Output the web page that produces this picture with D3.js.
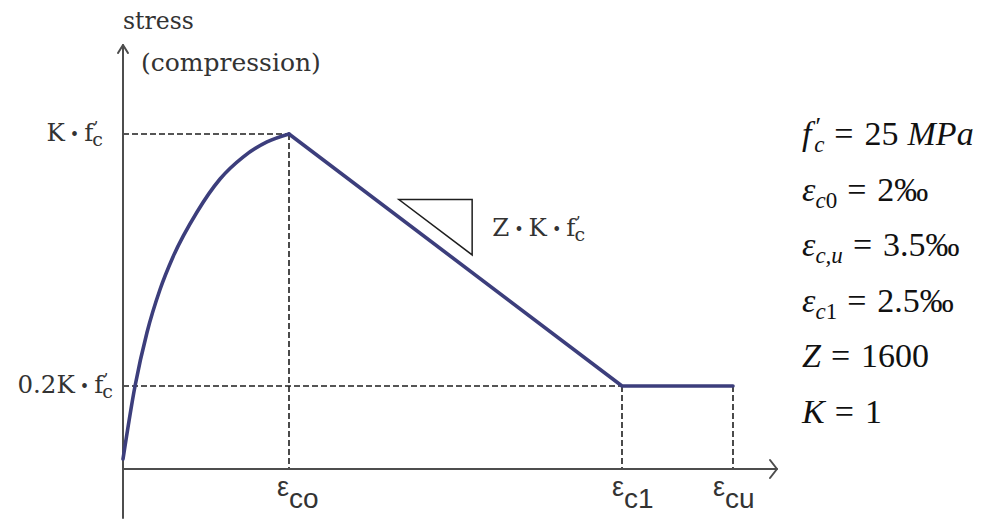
<!DOCTYPE html>
<html>
<head>
<meta charset="utf-8">
<script src="https://cdn.jsdelivr.net/npm/d3@7"></script>
<style>
  html, body { margin: 0; padding: 0; background: #ffffff; }
  svg { display: block; }
</style>
</head>
<body>
<svg id="chart" width="984" height="519"></svg>
<script>
// Concrete in compression: parabolic rise, linear softening, residual plateau.
const fc = 25;        // MPa
const K = 1;
const Z = 1600;
const epsC0 = 2.0;    // ‰
const epsC1 = 2.5;    // ‰
const epsCu = 3.5;    // ‰

// ascending branch (strain ‰, stress MPa)
const riseStrain = [0, 0.145, 0.289, 0.446, 0.602, 0.892, 1.169, 1.446, 1.735, 2.0];
const riseStress = [0.6, 5.0, 9.25, 12.66, 15.24, 18.81, 21.43, 23.17, 24.37, 25];

// softening branch and residual plateau
const tailStrain = [epsC0, epsC1, epsCu];
const tailStress = [K * fc, 0.2 * K * fc, 0.2 * K * fc];

// axis tick marks and their labels
const strainTicks = [epsC0, epsC1, epsCu];
const strainTickSubs = ["co", "c1", "cu"];
const stressTicks = [K * fc, 0.2 * K * fc];
const stressTickLabels = ["K", "0.2K"];

// slope marker along the softening branch (strain ‰)
const slopeMarkStrain = [2.165, 2.275];
const slopeMarkTop = 19.8;

// parameter list on the right: symbol, subscript, value, unit
const paramSymbols = ["f", "ε", "ε", "ε", "Z", "K"];
const paramSubs = ["c", "c0", "c,u", "c1", "", ""];
const paramValues = ["25", "2‰", "3.5‰", "2.5‰", "1600", "1"];
const paramUnits = ["MPa", "", "", "", "", ""];

const svg = d3.select("#chart");

const x = d3.scaleLinear()
  .domain([0, epsC0, epsC1, epsCu])
  .range([123, 289, 622, 733]);

const y = d3.scaleLinear()
  .domain([0, 0.2 * K * fc, K * fc])
  .range([469, 386, 134]);

const ink = "#1e1e1e";
const axisInk = "#4d4d4d";
const curveInk = "#3c3e7c";
const labelInk = "#333333";

// dashed guide lines
const guides = svg.append("g")
  .attr("fill", "none")
  .attr("stroke", ink)
  .attr("stroke-width", 1.6)
  .attr("stroke-dasharray", "6,3");

guides.append("line")
  .attr("x1", x(0)).attr("x2", x(epsC0))
  .attr("y1", y(K * fc)).attr("y2", y(K * fc));
guides.append("line")
  .attr("x1", x(0)).attr("x2", x(epsC1))
  .attr("y1", y(0.2 * K * fc)).attr("y2", y(0.2 * K * fc));
guides.append("line")
  .attr("x1", x(epsC0)).attr("x2", x(epsC0))
  .attr("y1", y(K * fc)).attr("y2", y(0));
guides.append("line")
  .attr("x1", x(epsC1)).attr("x2", x(epsC1))
  .attr("y1", y(0.2 * K * fc)).attr("y2", y(0));
guides.append("line")
  .attr("x1", x(epsCu)).attr("x2", x(epsCu))
  .attr("y1", y(0.2 * K * fc)).attr("y2", y(0));

// axes with open arrow heads
const axes = svg.append("g")
  .attr("fill", "none")
  .attr("stroke", axisInk)
  .attr("stroke-width", 2)
  .attr("stroke-linecap", "round")
  .attr("stroke-linejoin", "round");

const xEnd = 777, yTop = 45;
axes.append("line")
  .attr("x1", x(0)).attr("x2", xEnd)
  .attr("y1", y(0)).attr("y2", y(0));
axes.append("line")
  .attr("x1", x(0)).attr("x2", x(0))
  .attr("y1", 518).attr("y2", yTop);
axes.append("path")
  .attr("d", `M${xEnd - 7},${y(0) - 9}L${xEnd},${y(0)}L${xEnd - 7},${y(0) + 9}`);
axes.append("path")
  .attr("d", `M${x(0) - 5},${yTop + 8}L${x(0)},${yTop}L${x(0) + 5},${yTop + 8}`);

// stress–strain curve
const rise = riseStrain.map((s, i) => [s, riseStress[i]]);
const tail = tailStrain.map((s, i) => [s, tailStress[i]]);

const smooth = d3.line().x(d => x(d[0])).y(d => y(d[1])).curve(d3.curveMonotoneX);
const straight = d3.line().x(d => x(d[0])).y(d => y(d[1]));

const curveG = svg.append("g")
  .attr("fill", "none")
  .attr("stroke", curveInk)
  .attr("stroke-width", 3.6)
  .attr("stroke-linejoin", "round")
  .attr("stroke-linecap", "round");
curveG.append("path").attr("d", smooth(rise));
curveG.append("path").attr("d", straight(tail));

// slope triangle: rise of Z·K·f'c per unit strain
const slopePerMille = Z * K * fc / 1000;
const tx0 = slopeMarkStrain[0], tx1 = slopeMarkStrain[1];
const tyBottom = slopeMarkTop - slopePerMille * (tx1 - tx0);
svg.append("path")
  .attr("d", `M${x(tx0)},${y(slopeMarkTop)}L${x(tx1)},${y(slopeMarkTop)}L${x(tx1)},${y(tyBottom)}Z`)
  .attr("fill", "none")
  .attr("stroke", ink)
  .attr("stroke-width", 1.5)
  .attr("stroke-linejoin", "miter");

// serif label helper: "<lead>·f'c"
const serif = "'DejaVu Serif', 'Liberation Serif', serif";
function dot(sel) {
  sel.append("tspan").attr("font-size", 16).attr("dx", 5).attr("dy", -1).text("•");
}
function fcLabel(sel, lead) {
  sel.append("tspan").text(lead);
  dot(sel);
  sel.append("tspan").attr("dx", 5).attr("dy", 1).text("f");
  sel.append("tspan").attr("font-size", 16).attr("dy", -8).text("’");
  sel.append("tspan").attr("font-size", 19).attr("dx", -6).attr("dy", 13).text("c");
}

// stress labels on the left
const leftPad = [20, 10];
stressTicks.forEach((v, i) => {
  const t = svg.append("text")
    .attr("x", x(0) - leftPad[i])
    .attr("y", y(v) + 7)
    .attr("text-anchor", "end")
    .attr("font-family", serif)
    .attr("font-size", 24.5)
    .attr("fill", labelInk);
  fcLabel(t, stressTickLabels[i]);
});

// slope label
const zl = svg.append("text")
  .attr("x", x(tx1) + 20)
  .attr("y", (y(slopeMarkTop) + y(tyBottom)) / 2 + 9)
  .attr("font-family", serif)
  .attr("font-size", 24.5)
  .attr("fill", labelInk);
zl.append("tspan").text("Z");
dot(zl);
fcLabel(zl.append("tspan").attr("dx", 5).attr("dy", 1), "K");

// axis titles
svg.append("text")
  .attr("x", 123).attr("y", 29)
  .attr("font-family", serif).attr("font-size", 23.5)
  .attr("fill", labelInk)
  .text("stress");
svg.append("text")
  .attr("x", 141).attr("y", 71)
  .attr("font-family", serif).attr("font-size", 25)
  .attr("fill", labelInk)
  .text("(compression)");

// strain labels under the axis
const sans = "'Liberation Sans', Arial, sans-serif";
const strainLabelShift = [-12, -10, -20];
strainTicks.forEach((v, i) => {
  const t = svg.append("text")
    .attr("x", x(v) + strainLabelShift[i])
    .attr("y", 496)
    .attr("font-family", sans)
    .attr("font-size", 27)
    .attr("fill", labelInk);
  t.append("tspan").text("ε");
  t.append("tspan").attr("dy", 12).attr("font-size", 28).text(strainTickSubs[i]);
});

// parameter list
const math = "'Liberation Serif', 'DejaVu Serif', serif";
paramSymbols.forEach((sym, r) => {
  const t = svg.append("text")
    .attr("x", 802)
    .attr("y", 145 + r * 55.5)
    .attr("font-family", math)
    .attr("font-size", 34)
    .attr("fill", "#111");
  t.append("tspan").attr("font-style", "italic").text(sym);
  let lift = 0;
  if (r === 0) {
    // f with prime above the subscript
    t.append("tspan").attr("font-size", 26).attr("dx", 4).attr("dy", -10).text("′");
    t.append("tspan").attr("font-size", 23).attr("font-style", "italic")
      .attr("dx", -7).attr("dy", 17).text(paramSubs[r]);
    lift = -7;
  } else if (paramSubs[r]) {
    const sub = paramSubs[r];
    const letters = sub.replace(/[0-9]/g, "");
    const digits = sub.replace(/[^0-9]/g, "");
    t.append("tspan").attr("font-size", 23).attr("font-style", "italic")
      .attr("dy", 7).text(letters);
    if (digits) t.append("tspan").attr("font-size", 23).text(digits);
    lift = -7;
  }
  t.append("tspan").attr("dx", 10).attr("dy", lift).text("=");
  t.append("tspan").attr("dx", 11).text(paramValues[r]);
  if (paramUnits[r]) {
    t.append("tspan").attr("dx", 9).attr("font-style", "italic").text(paramUnits[r]);
  }
});
</script>
</body>
</html>
